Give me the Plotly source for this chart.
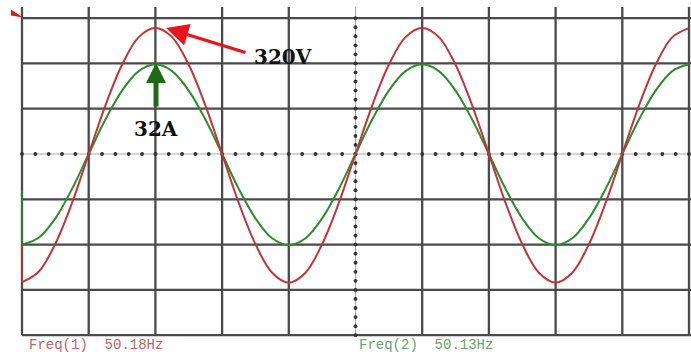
import numpy as np
import plotly.graph_objects as go

# ---- data (divisions on the scope screen) ----
x_div = [i * 0.25 for i in range(41)]
voltage = [-2.83, -2.60, -1.98, -1.08, 0.00, 1.07, 1.97, 2.58, 2.78, 2.58, 1.97, 1.07, 0.00,
           -1.08, -1.99, -2.62, -2.84, -2.62, -1.99, -1.08, 0.00, 1.07, 1.97, 2.58, 2.78,
           2.58, 1.97, 1.07, 0.00, -1.08, -1.99, -2.62, -2.84, -2.62, -1.99, -1.08, 0.00,
           1.07, 1.97, 2.58, 2.78]
current = [-2.00, -1.85, -1.42, -0.77, 0.00, 0.76, 1.40, 1.83, 1.98, 1.83, 1.40, 0.76, 0.00,
           -0.77, -1.42, -1.86, -2.01, -1.86, -1.42, -0.77, 0.00, 0.76, 1.40, 1.83, 1.98,
           1.83, 1.40, 0.76, 0.00, -0.77, -1.42, -1.86, -2.01, -1.86, -1.42, -0.77, 0.00,
           0.76, 1.40, 1.83, 1.98]
voltage_start = [-2.00, -2.83]
current_start = [-0.80, -2.00]
freq_labels = ["Freq(1)  50.18Hz", "Freq(2)  50.13Hz"]
peak_labels = ["320V", "32A"]

# ---- screen geometry ----
PXX = 66.7   # px per horizontal division
PXY = 45.3   # px per vertical division
X0, YC = 22.0, 154.0
W, H = 691, 352

def dx(px):
    return (px - X0) / PXX

def dy(py):
    return (YC - py) / PXY

RED = "#c0343a"
GREEN = "#2f8a30"
GRID = "#4a4a4a"

fig = go.Figure()

shapes = []
# vertical grid lines
for i in range(11):
    if i == 5:
        continue
    shapes.append(dict(type="line", xref="x", yref="y", x0=i, x1=i, y0=dy(7), y1=-4,
                       line=dict(color=GRID, width=2.3), layer="below"))
# horizontal grid lines
for j in range(-4, 4):
    if j == 0:
        continue
    shapes.append(dict(type="line", xref="x", yref="y", x0=0, x1=dx(W), y0=j, y1=j,
                       line=dict(color=GRID, width=2.3), layer="below"))
# centre lines (thin grey)
shapes.append(dict(type="line", xref="x", yref="y", x0=0, x1=dx(W), y0=0, y1=0,
                   line=dict(color="#a8a8a8", width=1), layer="below"))
shapes.append(dict(type="line", xref="x", yref="y", x0=5, x1=5, y0=dy(7), y1=-4,
                   line=dict(color="#a8a8a8", width=1), layer="below"))
# channel marker triangle
shapes.append(dict(type="path", xref="x", yref="y",
                   path=f"M {dx(11)} {dy(9.5)} L {dx(11)} {dy(15.5)} L {dx(23)} {dy(17.5)} Z",
                   fillcolor="#e0141c", line=dict(width=0)))

# centre line dots
hx = np.arange(0, 10.01, 0.2)
fig.add_trace(go.Scatter(x=hx, y=[0] * len(hx), mode="markers",
                         marker=dict(size=3.8, color="#333333"), hoverinfo="skip"))
vy = np.arange(-4, 3.01, 0.2)
fig.add_trace(go.Scatter(x=[5] * len(vy), y=vy, mode="markers",
                         marker=dict(size=3.8, color="#333333"), hoverinfo="skip"))

# traces
fig.add_trace(go.Scatter(x=x_div, y=current, mode="lines",
                         line=dict(color=GREEN, width=2, shape="spline"), hoverinfo="skip"))
fig.add_trace(go.Scatter(x=[0, 0], y=current_start, mode="lines",
                         line=dict(color=GREEN, width=1.5), hoverinfo="skip"))
fig.add_trace(go.Scatter(x=x_div, y=voltage, mode="lines",
                         line=dict(color=RED, width=2, shape="spline"), hoverinfo="skip"))
fig.add_trace(go.Scatter(x=[0, 0], y=voltage_start, mode="lines",
                         line=dict(color=RED, width=1.5), hoverinfo="skip"))

annotations = [
    # red arrow to voltage peak
    dict(x=dx(166), y=dy(28), ax=dx(247), ay=dy(53), xref="x", yref="y", axref="x", ayref="y",
         text="", showarrow=True, arrowhead=2, arrowsize=1.4, arrowwidth=3.2,
         arrowcolor="#e8141c"),
    dict(x=dx(283), y=dy(57), xref="x", yref="y", text=f"<b>{peak_labels[0]}</b>",
         showarrow=False, font=dict(family="DejaVu Serif", size=20, color="#111111")),
    # green arrow to current peak
    dict(x=dx(156), y=dy(63), ax=dx(156), ay=dy(108), xref="x", yref="y", axref="x", ayref="y",
         text="", showarrow=True, arrowhead=2, arrowsize=0.8, arrowwidth=5,
         arrowcolor="#1f6a14"),
    dict(x=dx(156), y=dy(129), xref="x", yref="y", text=f"<b>{peak_labels[1]}</b>",
         showarrow=False, font=dict(family="DejaVu Serif", size=20, color="#111111")),
    # frequency read-outs
    dict(x=dx(27), y=dy(345), xref="x", yref="y", xanchor="left", text=freq_labels[0],
         showarrow=False, font=dict(family="Liberation Mono", size=14, color="#bb6464")),
    dict(x=dx(357), y=dy(345), xref="x", yref="y", xanchor="left", text=freq_labels[1],
         showarrow=False, font=dict(family="Liberation Mono", size=14, color="#6aa46a")),
]

fig.update_layout(
    width=W, height=H,
    margin=dict(l=0, r=0, t=0, b=0),
    paper_bgcolor="white", plot_bgcolor="white",
    showlegend=False,
    shapes=shapes,
    annotations=annotations,
    xaxis=dict(range=[dx(0), dx(W)], visible=False, fixedrange=True),
    yaxis=dict(range=[dy(H), dy(0)], visible=False, fixedrange=True),
)

fig.write_html("out.html")
